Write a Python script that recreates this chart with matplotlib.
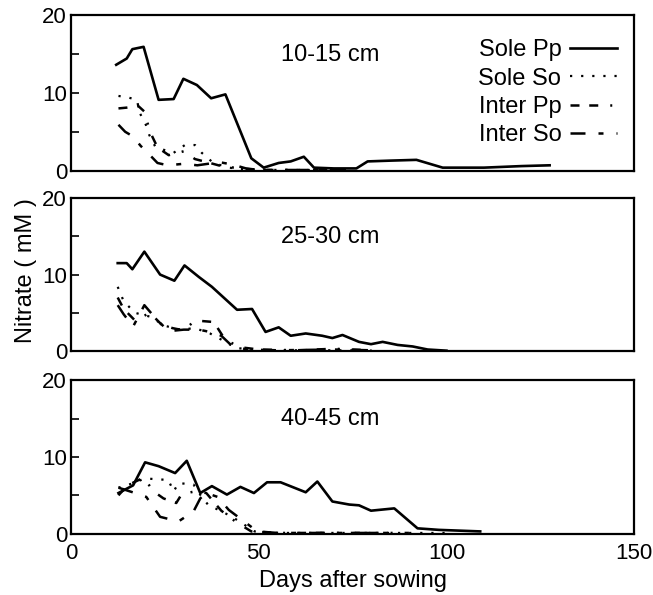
import matplotlib.pyplot as plt

plt.rcParams['font.family'] = ['Liberation Sans', 'DejaVu Sans']

# ---- data (days after sowing, nitrate mM) ----
# 10-15 cm
top_sole_pp_x = [12, 14.8, 16.3, 19.3, 23.3, 27.3, 29.9, 33.5, 37.3, 41.1, 48, 51.3, 55.3, 58.5, 62, 64.7, 70, 76, 79, 85, 92, 99, 110, 120, 127.5]
top_sole_pp_y = [13.6, 14.4, 15.6, 15.9, 9.1, 9.2, 11.8, 11.0, 9.3, 9.8, 1.6, 0.4, 1.0, 1.2, 1.8, 0.4, 0.3, 0.3, 1.2, 1.3, 1.4, 0.4, 0.4, 0.6, 0.7]
top_sole_so_x = [12.6, 15.2, 17.5, 18.3, 19.9, 20.8, 22.4, 24.6, 27.3, 30.3, 33.0, 34.8, 37.9, 42, 46, 55, 70]
top_sole_so_y = [9.6, 9.4, 9.1, 7.4, 5.9, 4.6, 3.1, 2.7, 2.3, 3.3, 3.3, 2.3, 1.0, 0.4, 0.2, 0.1, 0.1]
top_inter_pp_x = [12.6, 14.8, 17.9, 19.5, 21, 23, 26, 30, 33, 37, 40, 45, 50, 60, 75]
top_inter_pp_y = [8.0, 8.1, 8.3, 7.6, 5.0, 3.0, 2.0, 2.5, 1.5, 1.0, 0.6, 0.3, 0.1, 0.1, 0.1]
top_inter_so_x = [12.6, 14.4, 16.5, 18.5, 20.8, 23.0, 25.7, 30.1, 33.6, 39.5, 43, 46.6, 50, 60, 75]
top_inter_so_y = [5.9, 5.0, 4.4, 3.2, 2.1, 1.0, 0.7, 0.9, 0.7, 1.1, 0.8, 0.3, 0.1, 0.1, 0.1]

# 25-30 cm
mid_sole_pp_x = [12.4, 14.8, 16.3, 19.5, 23.7, 27.5, 30.2, 34.0, 37.5, 44.2, 48.2, 51.8, 55.3, 58.5, 62.5, 66.9, 69.6, 72.3, 76.7, 79.9, 83, 87, 91, 95, 100]
mid_sole_pp_y = [11.5, 11.5, 10.7, 13.0, 10.0, 9.2, 11.2, 9.7, 8.4, 5.4, 5.5, 2.5, 3.1, 2.0, 2.3, 2.0, 1.7, 2.1, 1.2, 0.9, 1.2, 0.8, 0.6, 0.2, 0.05]
mid_sole_so_x = [12.4, 14, 17, 21, 25, 29, 33, 37, 40, 44, 50, 60, 75]
mid_sole_so_y = [8.4, 6.5, 5.0, 4.5, 3.3, 2.8, 3.0, 2.3, 1.5, 0.4, 0.1, 0.1, 0.1]
mid_inter_pp_x = [12.4, 14, 17, 21, 24, 27, 30, 33, 38, 41, 45, 50, 60, 70, 80]
mid_inter_pp_y = [7.0, 5.5, 4.0, 5.0, 3.5, 3.0, 2.7, 4.0, 3.8, 1.5, 0.5, 0.2, 0.1, 0.3, 0.1]
mid_inter_so_x = [12.4, 14, 16.5, 19.5, 23, 26, 30, 34, 37, 40, 43, 47, 55, 70, 80]
mid_inter_so_y = [6.0, 4.8, 3.2, 6.0, 4.0, 2.6, 2.8, 2.8, 2.5, 2.0, 0.6, 0.2, 0.1, 0.2, 0.1]

# 40-45 cm
bot_sole_pp_x = [12.6, 16.5, 19.7, 23.3, 27.7, 30.8, 34.4, 37.5, 41.5, 45.1, 48.7, 52.2, 55.8, 62.5, 65.6, 69.6, 74.1, 76.7, 79.9, 86.1, 92.3, 98, 109]
bot_sole_pp_y = [5.3, 6.3, 9.3, 8.8, 7.9, 9.5, 5.3, 6.2, 5.1, 6.1, 5.3, 6.7, 6.7, 5.4, 6.8, 4.2, 3.8, 3.7, 3.0, 3.3, 0.7, 0.5, 0.3]
bot_sole_so_x = [12.6, 16, 19.7, 25.9, 27.3, 28.6, 32.6, 34.5, 36.6, 39.3, 42.9, 48.9, 55, 70, 90, 100]
bot_sole_so_y = [6.0, 6.5, 7.2, 7.0, 5.5, 6.6, 6.4, 5.0, 3.7, 3.1, 2.2, 0.3, 0.1, 0.1, 0.1, 0.1]
bot_inter_pp_x = [12.6, 15, 19.3, 22, 24.6, 28, 29.5, 33, 36, 40, 44, 48, 55, 70, 90]
bot_inter_pp_y = [5.0, 6.3, 7.3, 5.5, 4.6, 4.0, 5.2, 5.5, 5.3, 3.0, 1.5, 0.3, 0.1, 0.1, 0.1]
bot_inter_so_x = [12.6, 17, 20, 23.7, 28.6, 32.6, 34.4, 36, 39, 42, 49.6, 55, 70, 85]
bot_inter_so_y = [6.0, 5.3, 4.8, 2.2, 1.6, 2.9, 4.6, 5.3, 4.8, 3.1, 0.3, 0.1, 0.1, 0.1]

depths = ['10-15 cm', '25-30 cm', '40-45 cm']
labels = ['Sole Pp', 'Sole So', 'Inter Pp', 'Inter So']
panels = [
    [(top_sole_pp_x, top_sole_pp_y), (top_sole_so_x, top_sole_so_y),
     (top_inter_pp_x, top_inter_pp_y), (top_inter_so_x, top_inter_so_y)],
    [(mid_sole_pp_x, mid_sole_pp_y), (mid_sole_so_x, mid_sole_so_y),
     (mid_inter_pp_x, mid_inter_pp_y), (mid_inter_so_x, mid_inter_so_y)],
    [(bot_sole_pp_x, bot_sole_pp_y), (bot_sole_so_x, bot_sole_so_y),
     (bot_inter_pp_x, bot_inter_pp_y), (bot_inter_so_x, bot_inter_so_y)],
]
styles = ['-', (0, (1, 4)), (0, (3.6, 3.9, 3.6, 4.8, 0.8, 4.8)), (0, (6, 5.2, 2, 5.2))]
widths = [1.9, 1.6, 1.8, 1.8]

fig = plt.figure(figsize=(6.53, 5.95), dpi=100)
boxes = [(0.975, 0.713), (0.667, 0.410), (0.361, 0.103)]
axes = []
for i, (top, bot) in enumerate(boxes):
    ax = fig.add_axes([0.109, bot, 0.862, top - bot])
    for (x, y), ls, lw, lab in zip(panels[i], styles, widths, labels):
        ax.plot(x, y, color='black', linestyle=ls, linewidth=lw, label=lab)
    ax.set_xlim(0, 150)
    ax.set_ylim(0, 20)
    ax.set_yticks([0, 10, 20])
    ax.set_yticks([5, 15], minor=True)
    ax.set_xticks([0, 50, 100, 150])
    ax.tick_params(axis='y', which='both', direction='in', length=6, width=1.2,
                   labelsize=16, pad=3, right=False)
    ax.tick_params(axis='x', direction='in', length=0, labelsize=16, pad=7)
    if i < 2:
        ax.set_xticklabels([])
    for s in ax.spines.values():
        s.set_linewidth(1.6)
    ax.text(69, 14.9, depths[i], fontsize=17, ha='center', va='center')
    axes.append(ax)

axes[0].legend(loc='upper right', bbox_to_anchor=(0.986, 0.905), frameon=False,
               markerfirst=False, fontsize=17, handlelength=2.0,
               handletextpad=0.35, labelspacing=0.27, borderaxespad=0)
axes[2].set_xlabel('Days after sowing', fontsize=17, labelpad=4)
fig.text(0.04, 0.546, 'Nitrate ( mM )', rotation=90, fontsize=17,
         ha='center', va='center')

fig.savefig('out.png', dpi=100)
